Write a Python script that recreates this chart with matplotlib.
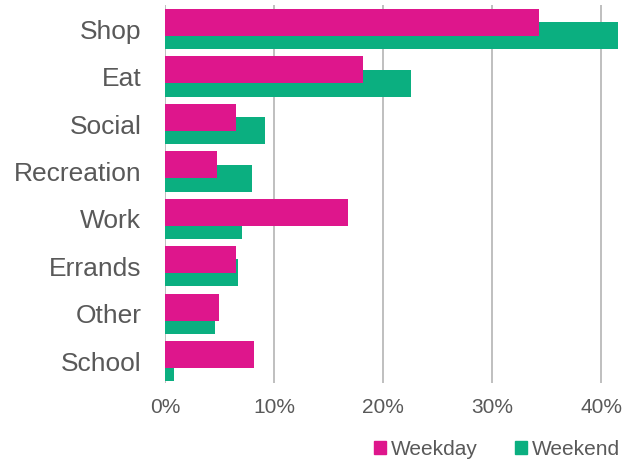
import matplotlib
matplotlib.use("Agg")
import matplotlib.pyplot as plt
import numpy as np
from matplotlib.patches import Patch
from matplotlib.ticker import PercentFormatter

# trip purpose shares, weekday vs weekend
purposes = ["Shop", "Eat", "Social", "Recreation", "Work", "Errands", "Other", "School"]
weekday = [34.3, 18.2, 6.5, 4.8, 16.8, 6.5, 5.0, 8.2]
weekend = [41.5, 22.6, 9.2, 8.0, 7.1, 6.7, 4.6, 0.8]

pink = "#DE168C"
green = "#0BAF80"
txt = "#595959"

plt.rcParams["font.family"] = ["Liberation Sans", "DejaVu Sans"]

fig = plt.figure(figsize=(6.35, 4.63), dpi=100)
ax = fig.add_axes([0.2598, 0.1728, 0.7213, 0.8164])

y = np.arange(len(purposes))
h = 0.57
off = 0.14
ax.barh(y + off, weekend, height=h, color=green, zorder=2)
ax.barh(y - off, weekday, height=h, color=pink, zorder=3)

ax.set_xlim(0, 42)
ax.set_ylim(len(purposes) - 0.54, -0.51)
ax.set_xticks([0, 10, 20, 30, 40])
ax.xaxis.set_major_formatter(PercentFormatter(decimals=0))
ax.set_yticks(y)
ax.set_yticklabels(purposes)

ax.grid(axis="x", color="#BFBFBF", lw=1.4, zorder=0)
for s in ax.spines.values():
    s.set_visible(False)
ax.tick_params(axis="y", length=0, pad=17, labelsize=19, labelcolor=txt)
ax.tick_params(axis="x", length=0, pad=11, labelsize=15, labelcolor=txt)

handles = [Patch(color=pink, label="Weekday"), Patch(color=green, label="Weekend")]
fig.legend(handles=handles, loc="center", bbox_to_anchor=(0.783, 0.029), ncol=2,
           frameon=False, fontsize=15, labelcolor=txt, handlelength=0.55,
           handleheight=0.55, handletextpad=0.25, columnspacing=1.8,
           borderpad=0, borderaxespad=0)

fig.savefig("out.png", dpi=100)
